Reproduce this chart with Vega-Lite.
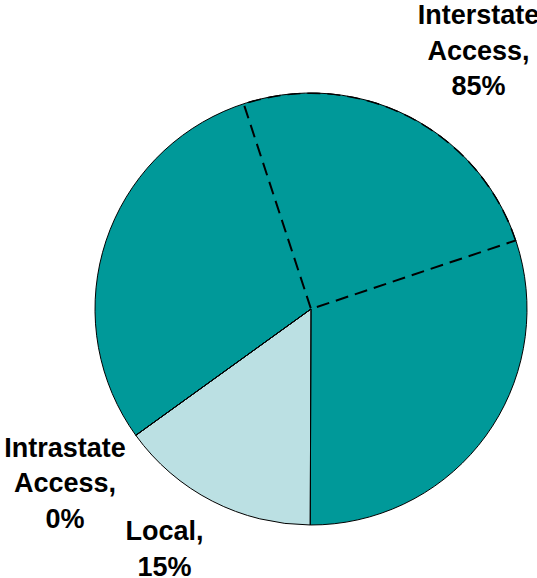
{
  "$schema": "https://vega.github.io/schema/vega-lite/v6.json",
  "width": 622,
  "height": 618,
  "autosize": {"type": "none"},
  "padding": 0,
  "background": "white",
  "config": {"view": {"stroke": null}},
  "datasets": {
    "shares": [
      {"category": "Interstate Access", "share": 85, "rank": 1, "label": "Interstate\nAccess,\n85%"},
      {"category": "Local", "share": 15, "rank": 2, "label": "Local,\n15%"},
      {"category": "Intrastate Access", "share": 0, "rank": 3, "label": "Intrastate\nAccess,\n0%"}
    ],
    "parts": [
      {"part": "C", "share": 29.9, "rank": 1},
      {"part": "A", "share": 24.9, "rank": 2},
      {"part": "B", "share": 30.2, "rank": 3}
    ]
  },
  "layer": [
    {
      "data": {"name": "shares"},
      "mark": {"type": "arc", "outerRadius": 216, "strokeWidth": 0},
      "encoding": {
        "theta": {"field": "share", "type": "quantitative", "stack": true, "scale": {"domain": [0, 100], "range": [4.0876, 10.3708]}},
        "order": {"field": "rank", "type": "quantitative"},
        "color": {"field": "category", "type": "nominal", "legend": null,
          "scale": {"domain": ["Interstate Access", "Local", "Intrastate Access"], "range": ["#009999", "#BBE0E3", "#66B2B2"]}}
      }
    },
    {
      "data": {"name": "parts"},
      "mark": {"type": "arc", "outerRadius": 216, "filled": false, "stroke": "black", "strokeWidth": 2, "strokeDash": [13, 7]},
      "encoding": {
        "theta": {"field": "share", "type": "quantitative", "stack": true, "scale": {"domain": [0, 100], "range": [4.0876, 10.3708]}},
        "order": {"field": "rank", "type": "quantitative"},
        "strokeOpacity": {"condition": {"test": "datum.part === 'A'", "value": 1}, "value": 0}
      }
    },
    {
      "data": {"name": "shares"},
      "mark": {"type": "arc", "innerRadius": 216.5, "outerRadius": 224, "fill": "white", "strokeWidth": 0},
      "encoding": {
        "theta": {"field": "share", "type": "quantitative", "stack": true, "scale": {"domain": [0, 100], "range": [4.0876, 10.3708]}},
        "order": {"field": "rank", "type": "quantitative"}
      }
    },
    {
      "data": {"name": "shares"},
      "mark": {"type": "arc", "outerRadius": 216, "filled": false, "stroke": "black", "strokeWidth": 1},
      "encoding": {
        "theta": {"field": "share", "type": "quantitative", "stack": true, "scale": {"domain": [0, 100], "range": [4.0876, 10.3708]}},
        "order": {"field": "rank", "type": "quantitative"}
      }
    },
    {
      "data": {"name": "shares"},
      "mark": {"type": "text", "radius": 290, "dx": 35, "dy": -35, "align": "center", "baseline": "middle", "lineBreak": "\n", "lineHeight": 35.5, "font": "Liberation Sans", "fontWeight": "bold", "fontSize": 27, "color": "black"},
      "encoding": {
        "theta": {"field": "share", "type": "quantitative", "stack": true, "scale": {"domain": [0, 100], "range": [4.0876, 10.3708]}},
        "order": {"field": "rank", "type": "quantitative"},
        "text": {"condition": {"test": "datum.category === 'Interstate Access'", "field": "label"}, "value": ""}
      }
    },
    {
      "data": {"name": "shares"},
      "mark": {"type": "text", "radius": 270, "dx": -23, "dy": -17, "align": "center", "baseline": "middle", "lineBreak": "\n", "lineHeight": 35.5, "font": "Liberation Sans", "fontWeight": "bold", "fontSize": 27, "color": "black"},
      "encoding": {
        "theta": {"field": "share", "type": "quantitative", "stack": true, "scale": {"domain": [0, 100], "range": [4.0876, 10.3708]}},
        "order": {"field": "rank", "type": "quantitative"},
        "text": {"condition": {"test": "datum.category === 'Local'", "field": "label"}, "value": ""}
      }
    },
    {
      "data": {"name": "shares"},
      "mark": {"type": "text", "radius": 302, "dx": -1, "dy": -37, "align": "center", "baseline": "middle", "lineBreak": "\n", "lineHeight": 35.5, "font": "Liberation Sans", "fontWeight": "bold", "fontSize": 27, "color": "black"},
      "encoding": {
        "theta": {"field": "share", "type": "quantitative", "stack": true, "scale": {"domain": [0, 100], "range": [4.0876, 10.3708]}},
        "order": {"field": "rank", "type": "quantitative"},
        "text": {"condition": {"test": "datum.category === 'Intrastate Access'", "field": "label"}, "value": ""}
      }
    }
  ]
}
